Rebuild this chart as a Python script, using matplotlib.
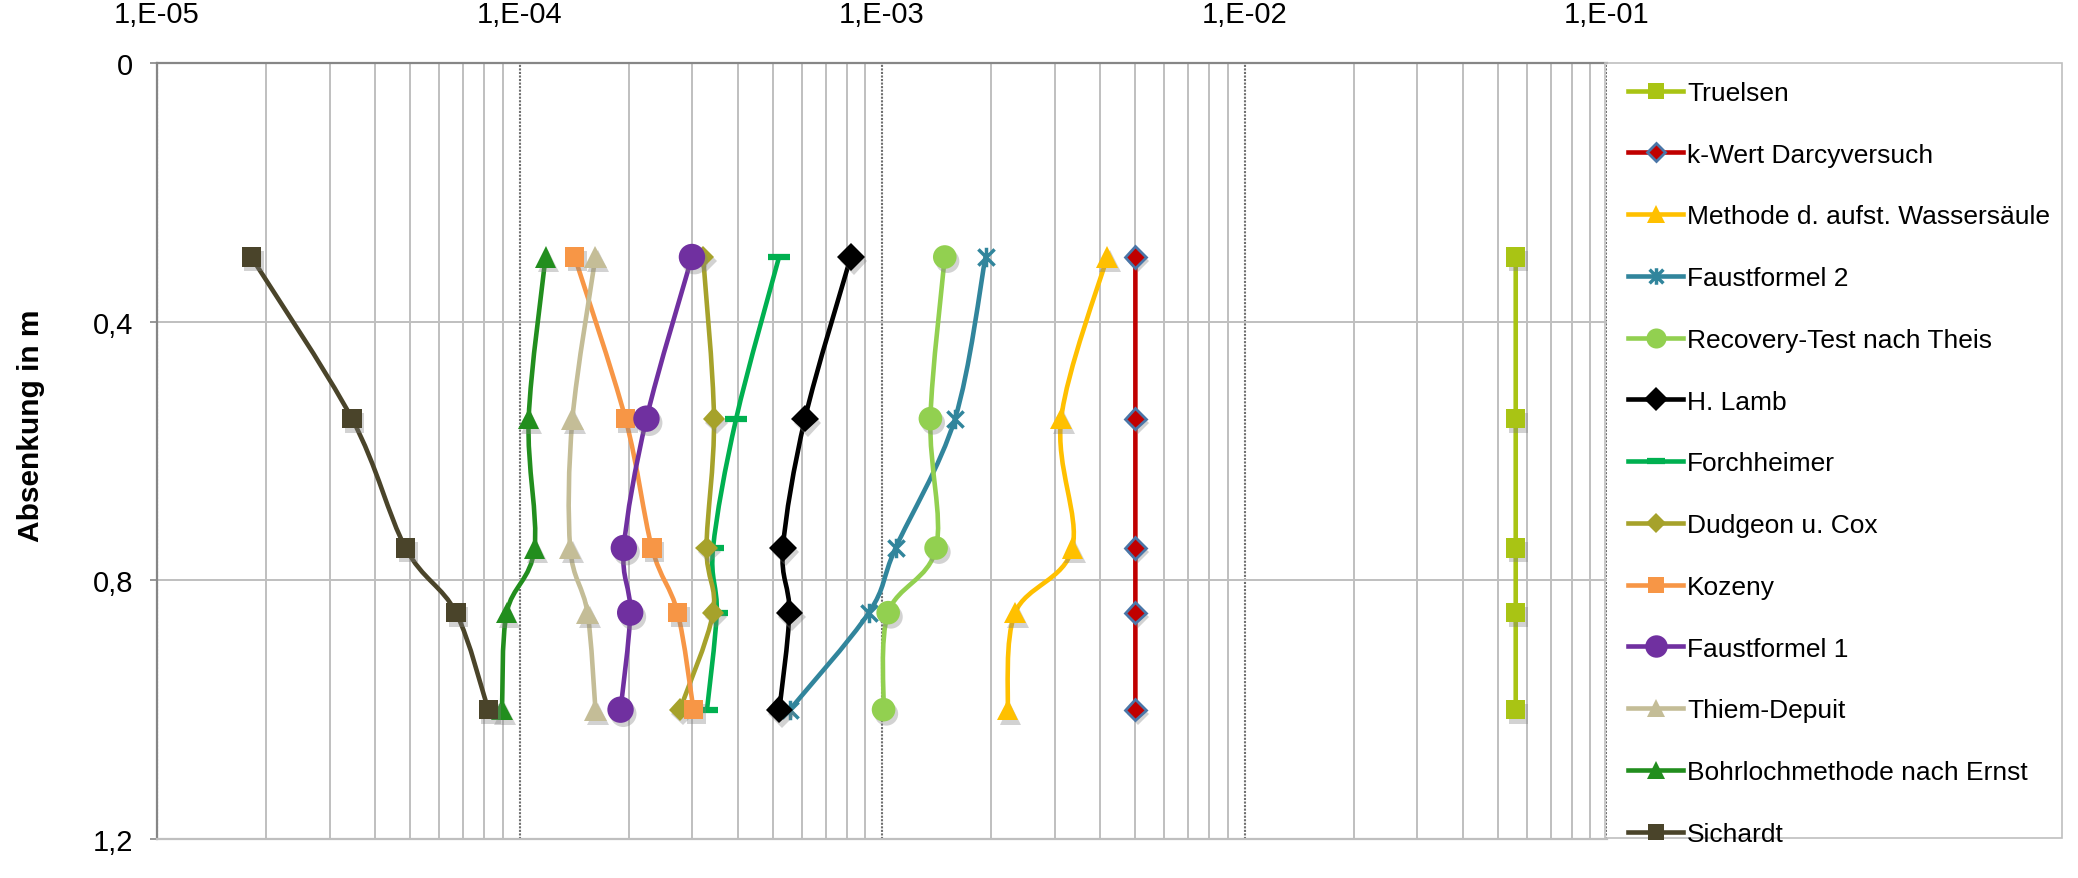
import numpy as np
import matplotlib
matplotlib.use("Agg")
import matplotlib.pyplot as plt
from matplotlib.path import Path
from matplotlib.patches import PathPatch, Rectangle
from matplotlib.lines import Line2D
import matplotlib.patheffects as pe

plt.rcParams['font.family'] = ['Liberation Sans', 'DejaVu Sans']

# depth of drawdown (m)
depth = [0.3, 0.55, 0.75, 0.85, 1.0]

# k-values in m/s
truelsen = [5.6e-2, 5.6e-2, 5.6e-2, 5.6e-2, 5.6e-2]
darcy = [5.0e-3, 5.0e-3, 5.0e-3, 5.0e-3, 5.0e-3]
wassersaeule = [4.18e-3, 3.12e-3, 3.35e-3, 2.33e-3, 2.22e-3]
faust2 = [1.93e-3, 1.59e-3, 1.09e-3, 9.2e-4, 5.57e-4]
recovery = [1.49e-3, 1.36e-3, 1.41e-3, 1.04e-3, 1.01e-3]
lamb = [8.2e-4, 6.13e-4, 5.33e-4, 5.55e-4, 5.21e-4]
forchheimer = [5.2e-4, 3.96e-4, 3.42e-4, 3.5e-4, 3.29e-4]
dudgeon = [3.21e-4, 3.44e-4, 3.28e-4, 3.42e-4, 2.77e-4]
kozeny = [1.42e-4, 1.96e-4, 2.32e-4, 2.73e-4, 3.02e-4]
faust1 = [2.99e-4, 2.24e-4, 1.94e-4, 2.02e-4, 1.9e-4]
thiem = [1.62e-4, 1.4e-4, 1.38e-4, 1.54e-4, 1.62e-4]
ernst = [1.18e-4, 1.06e-4, 1.1e-4, 9.22e-5, 8.95e-5]
sichardt = [1.82e-5, 3.45e-5, 4.85e-5, 6.68e-5, 8.2e-5]

xticks = [1e-5, 1e-4, 1e-3, 1e-2, 1e-1]
xticklabels = ['1,E-05', '1,E-04', '1,E-03', '1,E-02', '1,E-01']
yticks = [0, 0.4, 0.8, 1.2]
yticklabels = ['0', '0,4', '0,8', '1,2']

# Excel-like asterisk marker
star = Path([(-1, -1), (1, 1), (-1, 1), (1, -1), (0, -1.2), (0, 1.2)],
            [Path.MOVETO, Path.LINETO, Path.MOVETO, Path.LINETO, Path.MOVETO, Path.LINETO])

# label, values, color, marker, size, face, edge, edge width
series = [
    ("Truelsen", truelsen, "#A9C414", "s", 14, "#A9C414", "#A9C414", 0),
    ("k-Wert Darcyversuch", darcy, "#C00000", "D", 11, "#C00000", "#4A76A8", 2),
    ("Methode d. aufst. Wassersäule", wassersaeule, "#FFC000", "^", 15.5, "#FFC000", "#FFC000", 0),
    ("Faustformel 2", faust2, "#31859C", star, 14, "none", "#31859C", 2.5),
    ("Recovery-Test nach Theis", recovery, "#92D050", "o", 17, "#92D050", "#92D050", 0),
    ("H. Lamb", lamb, "#000000", "D", 14, "#000000", "#000000", 0),
    ("Forchheimer", forchheimer, "#00B050", "_", 16, "#00B050", "#00B050", 4.5),
    ("Dudgeon u. Cox", dudgeon, "#A6A22B", "D", 11.5, "#A6A22B", "#A6A22B", 0),
    ("Kozeny", kozeny, "#F79646", "s", 14, "#F79646", "#F79646", 0),
    ("Faustformel 1", faust1, "#7030A0", "o", 19, "#7030A0", "#7030A0", 0),
    ("Thiem-Depuit", thiem, "#C4BD97", "^", 16, "#C4BD97", "#C4BD97", 0),
    ("Bohrlochmethode nach Ernst", ernst, "#228E1E", "^", 15.5, "#228E1E", "#228E1E", 0),
    ("Sichardt", sichardt, "#4A442A", "s", 14, "#4A442A", "#4A442A", 0),
]


def smooth_path(xs, ys):
    # Catmull-Rom style bezier in (log10 k, depth) space, like Excel's smoothed lines
    p = np.column_stack([np.log10(xs), ys])
    n = len(p)
    verts = [p[0]]
    codes = [Path.MOVETO]
    for i in range(n - 1):
        pm = p[i - 1] if i > 0 else p[i]
        pp = p[i + 2] if i + 2 < n else p[i + 1]
        c1 = p[i] + (p[i + 1] - pm) / 6
        c2 = p[i + 1] - (pp - p[i]) / 6
        verts += [c1, c2, p[i + 1]]
        codes += [Path.CURVE4] * 3
    verts = np.array(verts)
    verts[:, 0] = 10 ** verts[:, 0]
    return Path(verts, codes)


fig = plt.figure(figsize=(20.78, 8.79), dpi=100)
ax = fig.add_axes([157 / 2078, 1 - 840 / 879, 1450 / 2078, 776 / 879])

ax.set_xscale('log')
ax.set_xlim(1e-5, 1e-1)
ax.set_ylim(1.2, 0)

shadow = [pe.SimplePatchShadow(offset=(2, -3), shadow_rgbFace='#808080', alpha=0.35), pe.Normal()]

handles = []
for z, (lab, vals, col, mk, ms, mfc, mec, mew) in enumerate(series):
    patch = PathPatch(smooth_path(vals, depth), fill=False, edgecolor=col, lw=3.3,
                      capstyle='round', joinstyle='round', zorder=3 + z * 0.01)
    ax.add_patch(patch)
    line, = ax.plot(vals, depth, ls='none', marker=mk, ms=ms, mfc=mfc, mec=mec, mew=mew,
                    zorder=5 + z * 0.01)
    if mfc != "none" and mk != "_":
        line.set_path_effects(shadow)
    handles.append(Line2D([], [], color=col, lw=3.3, marker=mk, ms=ms * 0.85,
                          mfc=mfc, mec=mec, mew=mew, label=lab))

# grid
ax.set_xticks(xticks)
ax.set_xticklabels(xticklabels)
ax.xaxis.tick_top()
ax.set_yticks(yticks)
ax.set_yticklabels(yticklabels)
ax.grid(True, which='minor', axis='x', color='#BFBFBF', lw=1.4)
ax.grid(True, which='major', axis='x', color='#6F6F6F', lw=1.5, ls=(0, (1, 0.7)))
ax.grid(True, which='major', axis='y', color='#BFBFBF', lw=1.4)
ax.set_axisbelow(True)

ax.tick_params(axis='x', which='both', length=0, pad=25, labelsize=21)
ax.tick_params(axis='y', length=5, width=1.2, color='#868686', pad=12, labelsize=21)
ax.tick_params(axis='x', which='minor', labeltop=False)

for s in ['top', 'left']:
    ax.spines[s].set_color('#868686')
    ax.spines[s].set_linewidth(1.6)
ax.spines['bottom'].set_color('#BFBFBF')
ax.spines['bottom'].set_linewidth(1.6)
ax.spines['right'].set_visible(False)

ax.set_ylabel('Absenkung in m', fontsize=21.5, fontweight='bold')
ax.yaxis.set_label_coords((45 - 157) / 1450, (840 - 426) / 776)

# legend with its own frame
fig.patches.append(Rectangle((1605 / 2078, 1 - 839 / 879), 457 / 2078, 775 / 879,
                             transform=fig.transFigure, fill=False,
                             edgecolor='#BFBFBF', lw=1.2))
fig.legend(handles=handles, loc='upper left', bbox_to_anchor=(1620 / 2078, 1 - 74 / 879),
           frameon=False, fontsize=19, handlelength=2.1, handletextpad=0.15,
           labelspacing=1.43, borderaxespad=0, borderpad=0.3)

fig.savefig('out.png', dpi=100)
